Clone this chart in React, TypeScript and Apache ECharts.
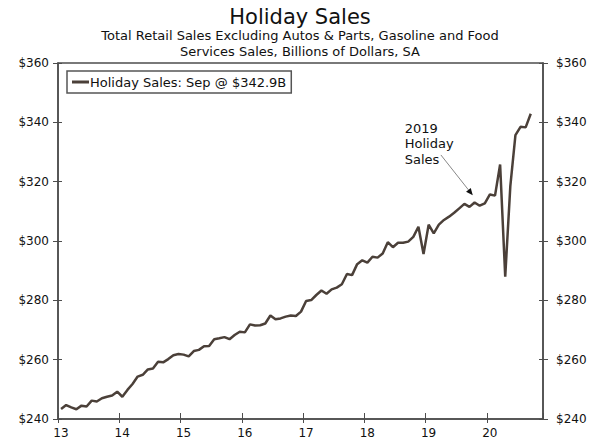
import React, { useEffect, useRef } from "react";
import * as echarts from "echarts";

// Monthly values, Jan 2013 .. Sep 2020 (billions of dollars)
const startYear = 13;
const salesValues = [
  243.4, 244.7, 243.9, 243.3, 244.5, 244.2, 246.2, 245.9, 247.0, 247.5, 247.9, 249.2,
  247.5, 249.8, 251.8, 254.3, 254.9, 256.7, 257.0, 259.3, 259.1, 260.2, 261.5, 261.9,
  261.7, 261.1, 262.9, 263.3, 264.5, 264.6, 266.9, 267.2, 267.6, 266.9, 268.3, 269.4,
  269.2, 271.9, 271.5, 271.6, 272.2, 274.9, 273.6, 273.9, 274.5, 274.9, 274.7, 276.2,
  279.8, 280.1, 281.8, 283.3, 282.2, 283.7, 284.3, 285.4, 288.9, 288.5, 292.2, 293.5,
  292.7, 294.7, 294.4, 295.8, 299.6, 297.9, 299.4, 299.4, 299.8, 301.4, 304.8, 295.6,
  305.5, 302.6, 305.5, 307.1, 308.2, 309.5, 311.0, 312.5, 311.5, 313.0, 311.9, 312.7,
  315.7, 315.3, 325.8, 288.0, 318.5, 335.7, 338.5, 338.3, 342.9,
];
const xTickLabels = ["13", "14", "15", "16", "17", "18", "19", "20"];
const yMin = 240;
const yMax = 360;
const yStep = 20;
const seriesName = "Holiday Sales: Sep @ $342.9B";
const annotationLines = ["2019", "Holiday", "Sales"];
// annotation anchor points in data coordinates (year, value)
const annotationTextAt = [18.66, 340.6];
const arrowFrom = [19.25, 329.0];
const arrowTo = [19.77, 315.4];

const FONT = "DejaVu Sans";
const AXIS_COLOR = "#4d4d4d";
const LINE_COLOR = "#4b4039";

export default function App() {
  const ref = useRef<HTMLDivElement>(null);

  useEffect(() => {
    document.body.style.margin = "0";
    if (!ref.current) return;
    const chart = echarts.init(ref.current, undefined, { renderer: "svg" });
    const data = salesValues.map((v, i) => [startYear + (i + 0.6) / 12, v]);
    const xMax = startYear + 95 / 12;

    const xLabel = (v: number) => {
      const idx = Math.round(v) - startYear;
      return Math.abs(v - Math.round(v)) < 1e-6 && idx >= 0 && idx < xTickLabels.length
        ? xTickLabels[idx]
        : "";
    };

    const baseX = {
      type: "value",
      min: startYear,
      max: xMax,
      interval: 1,
      splitLine: { show: false },
    };
    const baseY = {
      type: "value",
      min: yMin,
      max: yMax,
      interval: yStep,
      splitLine: { show: false },
    };

    chart.setOption({
      animation: false,
      backgroundColor: "#ffffff",
      title: {
        text: "Holiday Sales",
        subtext: "Total Retail Sales Excluding Autos & Parts, Gasoline and Food\nServices Sales, Billions of Dollars, SA",
        left: "center",
        top: 1,
        itemGap: 1,
        textStyle: { fontFamily: FONT, fontSize: 21, fontWeight: "normal", color: "#111" },
        subtextStyle: { fontFamily: FONT, fontSize: 13, color: "#111", lineHeight: 15.5, align: "center" },
      },
      legend: {
        left: 67,
        top: 71,
        orient: "horizontal",
        padding: [4, 5, 4, 5],
        borderColor: "#555",
        borderWidth: 1.5,
        itemWidth: 17,
        itemHeight: 3,
        itemGap: 2,
        textStyle: { fontFamily: FONT, fontSize: 13, color: "#111", lineHeight: 14, padding: [0, 0, 0, -4] },
        data: [{ name: seriesName, icon: "rect", itemStyle: { color: LINE_COLOR } }],
      },
      grid: {
        left: 58,
        right: 57,
        top: 63,
        bottom: 29,
        show: true,
        borderColor: AXIS_COLOR,
        borderWidth: 1.5,
        backgroundColor: "transparent",
      },
      xAxis: [
        {
          ...baseX,
          position: "bottom",
          axisLine: { show: true, lineStyle: { color: AXIS_COLOR, width: 1.5 } },
          axisTick: { show: true, inside: false, length: 4, lineStyle: { color: AXIS_COLOR, width: 1 } },
          axisLabel: {
            show: true,
            formatter: xLabel,
            showMaxLabel: false,
            fontFamily: FONT,
            fontSize: 12,
            color: "#111",
            margin: 8,
            padding: [0, 0, 0, 6],
          },
        },
        {
          ...baseX,
          position: "bottom",
          axisLine: { show: false },
          axisTick: { show: true, inside: true, length: 6, lineStyle: { color: AXIS_COLOR, width: 1 } },
          axisLabel: { show: false },
        },
      ],
      yAxis: [
        {
          ...baseY,
          position: "left",
          axisLine: { show: true, lineStyle: { color: AXIS_COLOR, width: 1.5 } },
          axisTick: { show: true, inside: false, length: 5, lineStyle: { color: AXIS_COLOR, width: 1 } },
          axisLabel: {
            formatter: (v: number) => "$" + v,
            fontFamily: FONT,
            fontSize: 12,
            color: "#111",
            margin: 9,
          },
        },
        {
          ...baseY,
          position: "left",
          axisLine: { show: false },
          axisTick: { show: true, inside: true, length: 4, lineStyle: { color: AXIS_COLOR, width: 1 } },
          axisLabel: { show: false },
        },
        {
          ...baseY,
          position: "right",
          axisLine: { show: true, lineStyle: { color: AXIS_COLOR, width: 1.5 } },
          axisTick: { show: true, inside: false, length: 5, lineStyle: { color: AXIS_COLOR, width: 1 } },
          axisLabel: {
            formatter: (v: number) => "$" + v,
            fontFamily: FONT,
            fontSize: 12,
            color: "#111",
            margin: 13,
          },
        },
        {
          ...baseY,
          position: "right",
          axisLine: { show: false },
          axisTick: { show: true, inside: true, length: 4, lineStyle: { color: AXIS_COLOR, width: 1 } },
          axisLabel: { show: false },
        },
      ],
      series: [
        {
          name: seriesName,
          type: "line",
          xAxisIndex: 0,
          yAxisIndex: 0,
          data,
          symbol: "none",
          showSymbol: false,
          lineStyle: { color: LINE_COLOR, width: 2.5 },
          itemStyle: { color: LINE_COLOR },
        },
      ],
    });

    const toPx = (p: number[]) =>
      chart.convertToPixel({ xAxisIndex: 0, yAxisIndex: 0 }, p) as number[];
    const t = toPx(annotationTextAt);
    const a0 = toPx(arrowFrom);
    const a1 = toPx(arrowTo);
    const dx = a1[0] - a0[0];
    const dy = a1[1] - a0[1];
    const len = Math.sqrt(dx * dx + dy * dy);
    const ux = dx / len;
    const uy = dy / len;
    const headL = 7;
    const headW = 3;
    const bx = a1[0] - ux * headL;
    const by = a1[1] - uy * headL;

    chart.setOption({
      graphic: [
        {
          type: "text",
          x: t[0],
          y: t[1],
          style: {
            text: annotationLines.join("\n"),
            font: `13px "${FONT}"`,
            fill: "#111",
            lineHeight: 15.5,
            textAlign: "left",
            textVerticalAlign: "top",
          },
        },
        {
          type: "line",
          shape: { x1: a0[0], y1: a0[1], x2: bx, y2: by },
          style: { stroke: "#888", lineWidth: 1 },
        },
        {
          type: "polygon",
          shape: {
            points: [
              [a1[0], a1[1]],
              [bx - uy * headW, by + ux * headW],
              [bx + uy * headW, by - ux * headW],
            ],
          },
          style: { fill: "#111" },
        },
      ],
    });

    return () => chart.dispose();
  }, []);

  return <div ref={ref} style={{ width: 600, height: 448 }} />;
}
